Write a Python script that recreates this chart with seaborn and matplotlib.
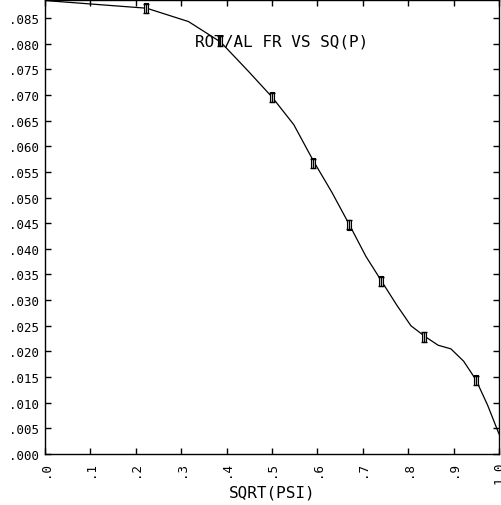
import seaborn as sns
import matplotlib
matplotlib.use("Agg")
import matplotlib.pyplot as plt
import pandas as pd
import numpy as np

# curve through the computed values
curve_x = [0.0, 0.224, 0.316, 0.387, 0.447, 0.500, 0.548, 0.592, 0.632, 0.671, 0.707,
           0.742, 0.775, 0.806, 0.837, 0.866, 0.894, 0.922, 0.949, 0.975, 1.0]
curve_y = [0.0884, 0.0869, 0.0843, 0.0803, 0.0747, 0.0696, 0.0642, 0.0570, 0.0510, 0.0446,
           0.0385, 0.0336, 0.0290, 0.0250, 0.0229, 0.0212, 0.0205, 0.0181, 0.0145, 0.0095, 0.0039]

# measured points with error bars
meas_x = [0.222, 0.386, 0.499, 0.591, 0.670, 0.740, 0.835, 0.949]
meas_y = [0.0869, 0.0805, 0.0695, 0.0567, 0.0447, 0.0337, 0.0228, 0.0144]
meas_err = [0.0009] * 8

x_ticks = [0.0, 0.1, 0.2, 0.3, 0.4, 0.5, 0.6, 0.7, 0.8, 0.9, 1.0]
x_labels = [".0", ".1", ".2", ".3", ".4", ".5", ".6", ".7", ".8", ".9", "1.0"]
y_ticks = [0.000, 0.005, 0.010, 0.015, 0.020, 0.025, 0.030, 0.035, 0.040,
           0.045, 0.050, 0.055, 0.060, 0.065, 0.070, 0.075, 0.080, 0.085]
y_labels = [".000", ".005", ".010", ".015", ".020", ".025", ".030", ".035", ".040",
            ".045", ".050", ".055", ".060", ".065", ".070", ".075", ".080", ".085"]

sns.set_style("ticks")
plt.rcParams["font.family"] = ["DejaVu Sans Mono", "DejaVu Sans"]
plt.rcParams["text.color"] = "black"
plt.rcParams["xtick.color"] = "black"
plt.rcParams["ytick.color"] = "black"
plt.rcParams["axes.labelcolor"] = "black"

fig = plt.figure(figsize=(5.01, 5.06), dpi=100)
ax = fig.add_axes([45 / 501, 51 / 506, 454 / 501, 454.5 / 506])

curve = pd.DataFrame({"x": curve_x, "y": curve_y})
sns.lineplot(data=curve, x="x", y="y", color="black", linewidth=0.9, ax=ax, sort=False)

box = [(-1, -2.2), (1, -2.2), (1, 2.2), (-1, 2.2), (-1, -2.2)]
ax.plot(meas_x, meas_y, linestyle="none", marker=box, markersize=6.5,
        markerfacecolor="#c8c8c8", markeredgecolor="black", markeredgewidth=0.8)
ax.errorbar(meas_x, meas_y, yerr=meas_err, fmt="none", ecolor="black",
            elinewidth=0.8, capsize=2.5, capthick=1.0)

ax.set_xlim(0, 1.0)
ax.set_ylim(0, 0.0886)
ax.set_xticks(x_ticks)
ax.set_xticklabels(x_labels, rotation=90, fontsize=9)
ax.set_yticks(y_ticks)
ax.set_yticklabels(y_labels, fontsize=9)
ax.tick_params(axis="x", direction="in", length=4, top=True, bottom=True, pad=5,
               width=1, colors="black")
ax.tick_params(axis="y", direction="in", length=4, left=True, right=True, pad=4,
               width=1, colors="black")
for s in ax.spines.values():
    s.set_visible(True)
    s.set_linewidth(1.0)
    s.set_color("black")

ax.set_xlabel("SQRT(PSI)", fontsize=11.5, labelpad=1)
ax.set_ylabel("")
ax.text(0.33, 0.0806, "ROT/AL FR VS SQ(P)", fontsize=11.5, ha="left", va="center")

fig.savefig("out.png", dpi=100)
